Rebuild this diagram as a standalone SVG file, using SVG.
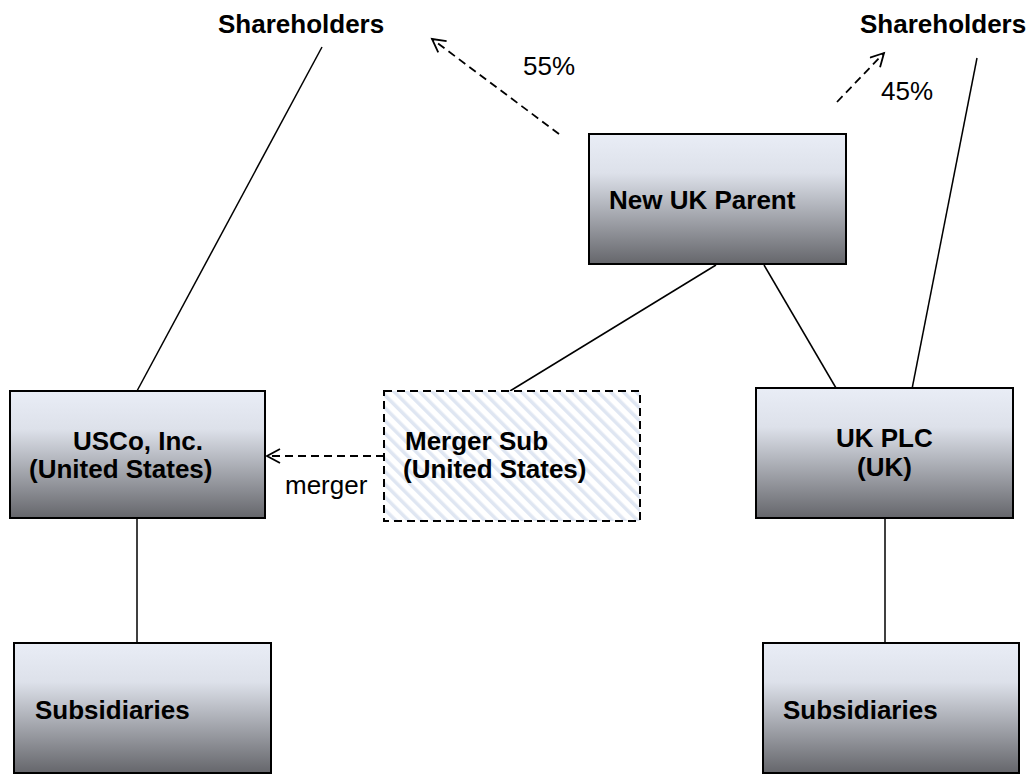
<svg xmlns="http://www.w3.org/2000/svg" width="1030" height="777" viewBox="0 0 1030 777">
<defs>
<linearGradient id="g" x1="0" y1="0" x2="0" y2="1">
<stop offset="0" stop-color="#e9edf6"/>
<stop offset="0.3" stop-color="#dde1ea"/>
<stop offset="1" stop-color="#65666b"/>
</linearGradient>
<pattern id="hatch" patternUnits="userSpaceOnUse" width="9" height="9" patternTransform="rotate(-45)">
<rect width="9" height="9" fill="#ffffff"/>
<rect width="3.5" height="9" fill="#dfe6f2"/>
</pattern>
<marker id="ah" markerUnits="userSpaceOnUse" markerWidth="20" markerHeight="20" refX="14" refY="8" orient="auto">
<path d="M1,1 L14,8 L1,15" fill="none" stroke="#000" stroke-width="1.8"/>
</marker>
<style>
.box{fill:url(#g);stroke:#000;stroke-width:2}
.b{font-family:"Liberation Sans",Arial,sans-serif;font-weight:bold;font-size:26px;fill:#000}
.r{font-family:"Liberation Sans",Arial,sans-serif;font-size:26px;fill:#000}
.ln{stroke:#000;stroke-width:1.5;fill:none}
.dl{stroke:#000;stroke-width:1.8;fill:none;stroke-dasharray:8 5;marker-end:url(#ah)}
</style>
</defs>
<g id="connectors">
<line class="ln" x1="322" y1="47" x2="137" y2="391"/>
<line class="ln" x1="977" y1="58" x2="912" y2="389"/>
<line class="ln" x1="716" y1="265" x2="510" y2="391"/>
<line class="ln" x1="764" y1="265" x2="836" y2="388"/>
<line class="ln" x1="137" y1="517" x2="137" y2="643"/>
<line class="ln" x1="885" y1="518" x2="885" y2="643"/>
<line class="dl" x1="559" y1="134" x2="432" y2="39"/>
<line class="dl" x1="837" y1="102" x2="884" y2="53"/>
<line class="dl" x1="384" y1="456" x2="267" y2="456"/>
<text class="r" x="523" y="75">55%</text>
<text class="r" x="881" y="100">45%</text>
<text class="r" x="285" y="494">merger</text>
</g>
<g id="shareholders-left"><text class="b" x="218" y="33">Shareholders</text></g>
<g id="shareholders-right"><text class="b" x="860" y="33">Shareholders</text></g>
<g id="new-uk-parent">
<rect class="box" x="589" y="134" width="257" height="130"/>
<text class="b" x="609" y="209">New UK Parent</text>
</g>
<g id="usco">
<rect class="box" x="10" y="391" width="255" height="127"/>
<text class="b" x="73" y="450">USCo, Inc.</text>
<text class="b" x="29" y="478">(United States)</text>
</g>
<g id="merger-sub">
<rect x="384" y="391" width="256" height="130" fill="url(#hatch)" stroke="#000" stroke-width="2" stroke-dasharray="8 5"/>
<text class="b" x="405" y="450">Merger Sub</text>
<text class="b" x="403" y="478">(United States)</text>
</g>
<g id="uk-plc">
<rect class="box" x="756" y="388" width="257" height="130"/>
<text class="b" x="836" y="447">UK PLC</text>
<text class="b" x="857" y="476">(UK)</text>
</g>
<g id="subsidiaries-left">
<rect class="box" x="14" y="643" width="257" height="130"/>
<text class="b" x="35" y="719">Subsidiaries</text>
</g>
<g id="subsidiaries-right">
<rect class="box" x="763" y="643" width="256" height="130"/>
<text class="b" x="783" y="719">Subsidiaries</text>
</g>
</svg>
